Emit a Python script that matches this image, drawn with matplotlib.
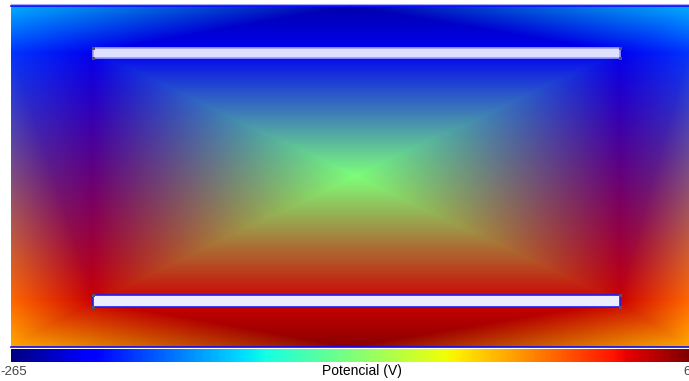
import numpy as np
import matplotlib
matplotlib.use("Agg")
import matplotlib.pyplot as plt
import matplotlib.tri as mtri
from matplotlib.patches import Rectangle

# potential range (V) of the colour scale
v_min = -265
v_max = 665

# mesh nodes (x, y in drawing units) and potential (V)
node_x = [11, 350, 689,   11, 93, 620, 689,   355,   11, 93, 620, 689,   11, 350, 689]
node_y = [6, 6, 6,        52, 52, 52, 52,     176,   301, 301, 301, 301, 347, 347, 347]
node_v = [14, -228, 14,   -98, -172, -172, -98,   200,   479, 600, 600, 479,   414, 656, 414]

# triangles (node indices)
tris = [
    [0, 3, 4], [0, 4, 1], [1, 4, 5], [1, 5, 2], [2, 5, 6],
    [3, 4, 9], [3, 9, 8], [6, 5, 10], [6, 10, 11],
    [4, 7, 5], [9, 7, 10], [4, 9, 7], [5, 10, 7],
    [8, 9, 12], [12, 9, 13], [13, 9, 10], [13, 10, 14], [14, 10, 11],
]

# plates: x0, x1, y_top, y_bottom
plates = [(93, 620, 48, 58), (93, 620, 295, 307)]
plate_fill = ['#dde1ff', '#eceeff']
plate_edge = ['#9a9cff', '#1c1cff']

fig = plt.figure(figsize=(6.89, 3.81), dpi=100)
ax = fig.add_axes([11 / 689, 1 - 347 / 381, 678 / 689, 342 / 381])
triang = mtri.Triangulation(node_x, node_y, tris)
tpc = ax.tripcolor(triang, node_v, shading='gouraud', cmap='jet',
                   vmin=v_min, vmax=v_max)
ax.set_xlim(11, 689)
ax.set_ylim(347, 5)
ax.axis('off')

# domain border top / bottom
ax.plot([11, 689], [5.5, 5.5], color='#0a0aff', lw=1.2, clip_on=False)
ax.plot([11, 689], [4.3, 4.3], color='#a8a8ff', lw=0.8, clip_on=False)
ax.plot([11, 689], [346.8, 346.8], color='#0a0aff', lw=1.2, clip_on=False)

for (x0, x1, yt, yb), fc, ec in zip(plates, plate_fill, plate_edge):
    ax.add_patch(Rectangle((x0, yt), x1 - x0, yb - yt, facecolor=fc,
                           edgecolor=ec, lw=1.2, zorder=3))
    for hx in (x0, x1):
        for hy in (yt, yb):
            ax.add_patch(Rectangle((hx - 1.5, hy - 1.5), 3, 3,
                                   facecolor='#555566', edgecolor='none',
                                   zorder=4))

cax = fig.add_axes([11 / 689, 1 - 362 / 381, 678 / 689, 13 / 381])
cb = fig.colorbar(tpc, cax=cax, orientation='horizontal')
cb.set_ticks([])
cb.outline.set_visible(False)

fig.text(0 / 689, 1 - 372 / 381, str(v_min), ha='left', va='center',
         fontsize=9.5, color='#444444', family='Liberation Sans')
fig.text(683 / 689, 1 - 372 / 381, str(v_max), ha='left', va='center',
         fontsize=9.5, color='#444444', family='Liberation Sans')
fig.text(362 / 689, 1 - 371 / 381, 'Potencial (V)', ha='center', va='center',
         fontsize=10, color='black', family='Liberation Sans')

fig.savefig('out.png', dpi=100)
